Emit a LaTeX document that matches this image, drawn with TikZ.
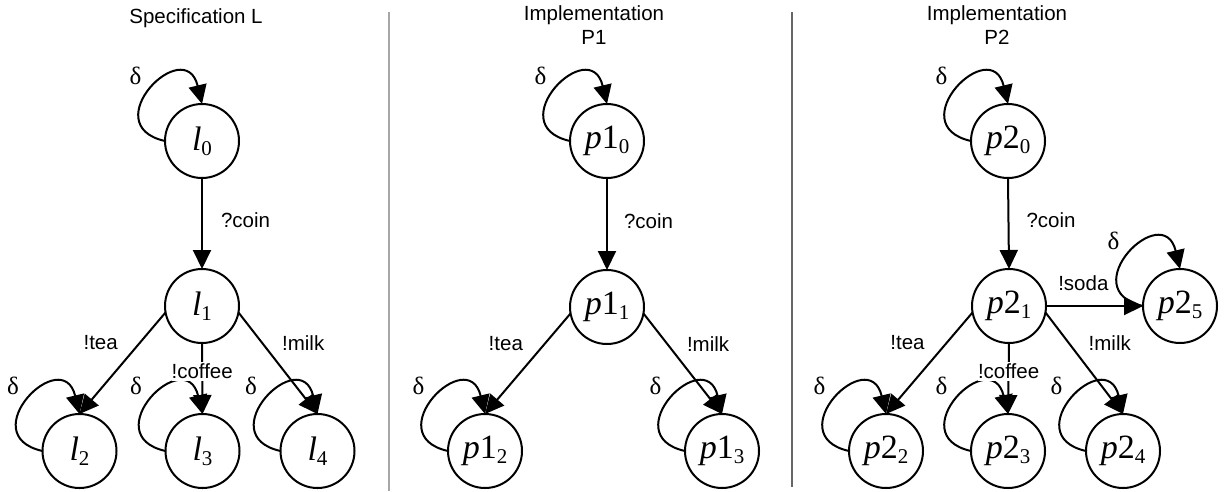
\documentclass[tikz,border=0pt]{standalone}
\usepackage{fontspec}
\setmainfont{Liberation Serif}
\newfontfamily\labfont{Liberation Sans}
\usetikzlibrary{arrows.meta}
\newcommand{\stsub}[1]{\raisebox{-5pt}{\fontsize{21}{21}\selectfont #1}}
\begin{document}
\begin{tikzpicture}[x=1pt,y=-1pt,
  state/.style={circle,draw,line width=2pt,minimum size=74pt,inner sep=0pt,outer sep=0pt,font=\fontsize{34}{34}\selectfont},
  tr/.style={line width=2pt,-{Triangle[length=19pt,width=18pt]}},
  lab/.style={font=\labfont\fontsize{20.5}{24}\selectfont,inner sep=0pt},
  dl/.style={font=\fontsize{25}{25}\selectfont,inner sep=0pt},
  sep/.style={line width=1.5pt}]
\useasboundingbox (0,0) rectangle (1225,491);

% titles
\node[lab] (tL) at (196,18) {Specification L};
\node[lab,align=center] (tP1) at (594,25) {Implementation\\P1};
\node[lab,align=center] (tP2) at (997,25) {Implementation\\P2};

% separators
\draw[sep,black!35] (389,12) -- (389,491);
\draw[sep,black!60] (792,12) -- (792,487);

% ---------- Specification L ----------
\node[state] (l0) at (202,141) {\textit{l}\stsub{0}};
\node[state] (l1) at (202,306) {\textit{l}\stsub{1}};
\node[state] (l2) at (79.5,451) {\textit{l}\stsub{2}};
\node[state] (l3) at (202.5,451) {\textit{l}\stsub{3}};
\node[state] (l4) at (317.5,451) {\textit{l}\stsub{4}};

% ---------- P1 ----------
\node[state] (a0) at (607,141) {\textit{p}1\stsub{0}};
\node[state] (a1) at (607,307) {\textit{p}1\stsub{1}};
\node[state] (a2) at (485,451) {\textit{p}1\stsub{2}};
\node[state] (a3) at (722,451) {\textit{p}1\stsub{3}};

% ---------- P2 ----------
\node[state] (b0) at (1008,141) {\textit{p}2\stsub{0}};
\node[state] (b1) at (1009,306) {\textit{p}2\stsub{1}};
\node[state] (b5) at (1180,306) {\textit{p}2\stsub{5}};
\node[state] (b2) at (886,451) {\textit{p}2\stsub{2}};
\node[state] (b3) at (1008,451) {\textit{p}2\stsub{3}};
\node[state] (b4) at (1123,451) {\textit{p}2\stsub{4}};

% self loops
\foreach \n in {l0,l2,l3,l4,a0,a2,a3,b0,b2,b3,b4,b5}{
  \draw[tr] (\n.west) .. controls +(-71,-16) and +(-17,-71) .. (\n.north)
     node[dl,pos=0.5,xshift=-15pt,yshift=14pt] {δ};
}

% L transitions
\draw[tr] (l0.south) -- (l1.north) node[lab,midway,anchor=west,xshift=18pt,yshift=3pt] {?coin};
\draw[tr] (l1.190) -- (l2.north) node[lab,pos=0.3,anchor=east,xshift=-21pt] {!tea};
\draw[tr] (l1.south) -- (l3.north) node[lab,pos=0.4,fill=white,inner ysep=2pt] {!coffee};
\draw[tr] (l1.-10) -- (l4.north) node[lab,pos=0.3,anchor=west,xshift=19pt] {!milk};

% P1 transitions
\draw[tr] (a0.south) -- (a1.north) node[lab,midway,anchor=west,xshift=16pt,yshift=3pt] {?coin};
\draw[tr] (a1.190) -- (a2.north) node[lab,pos=0.3,anchor=east,xshift=-21pt] {!tea};
\draw[tr] (a1.-10) -- (a3.north) node[lab,pos=0.3,anchor=west,xshift=19pt] {!milk};

% P2 transitions
\draw[tr] (b0.south) -- (b1.north) node[lab,midway,anchor=west,xshift=17pt,yshift=3pt] {?coin};
\draw[tr] (b1.190) -- (b2.north) node[lab,pos=0.3,anchor=east,xshift=-21pt] {!tea};
\draw[tr] (b1.south) -- (b3.north) node[lab,pos=0.4,fill=white,inner ysep=2pt] {!coffee};
\draw[tr] (b1.-10) -- (b4.north) node[lab,pos=0.3,anchor=west,xshift=19pt] {!milk};
\draw[tr] (b1.east) -- (b5.west) node[lab,pos=0.385,anchor=south,yshift=14pt] {!soda};
\end{tikzpicture}
\end{document}
